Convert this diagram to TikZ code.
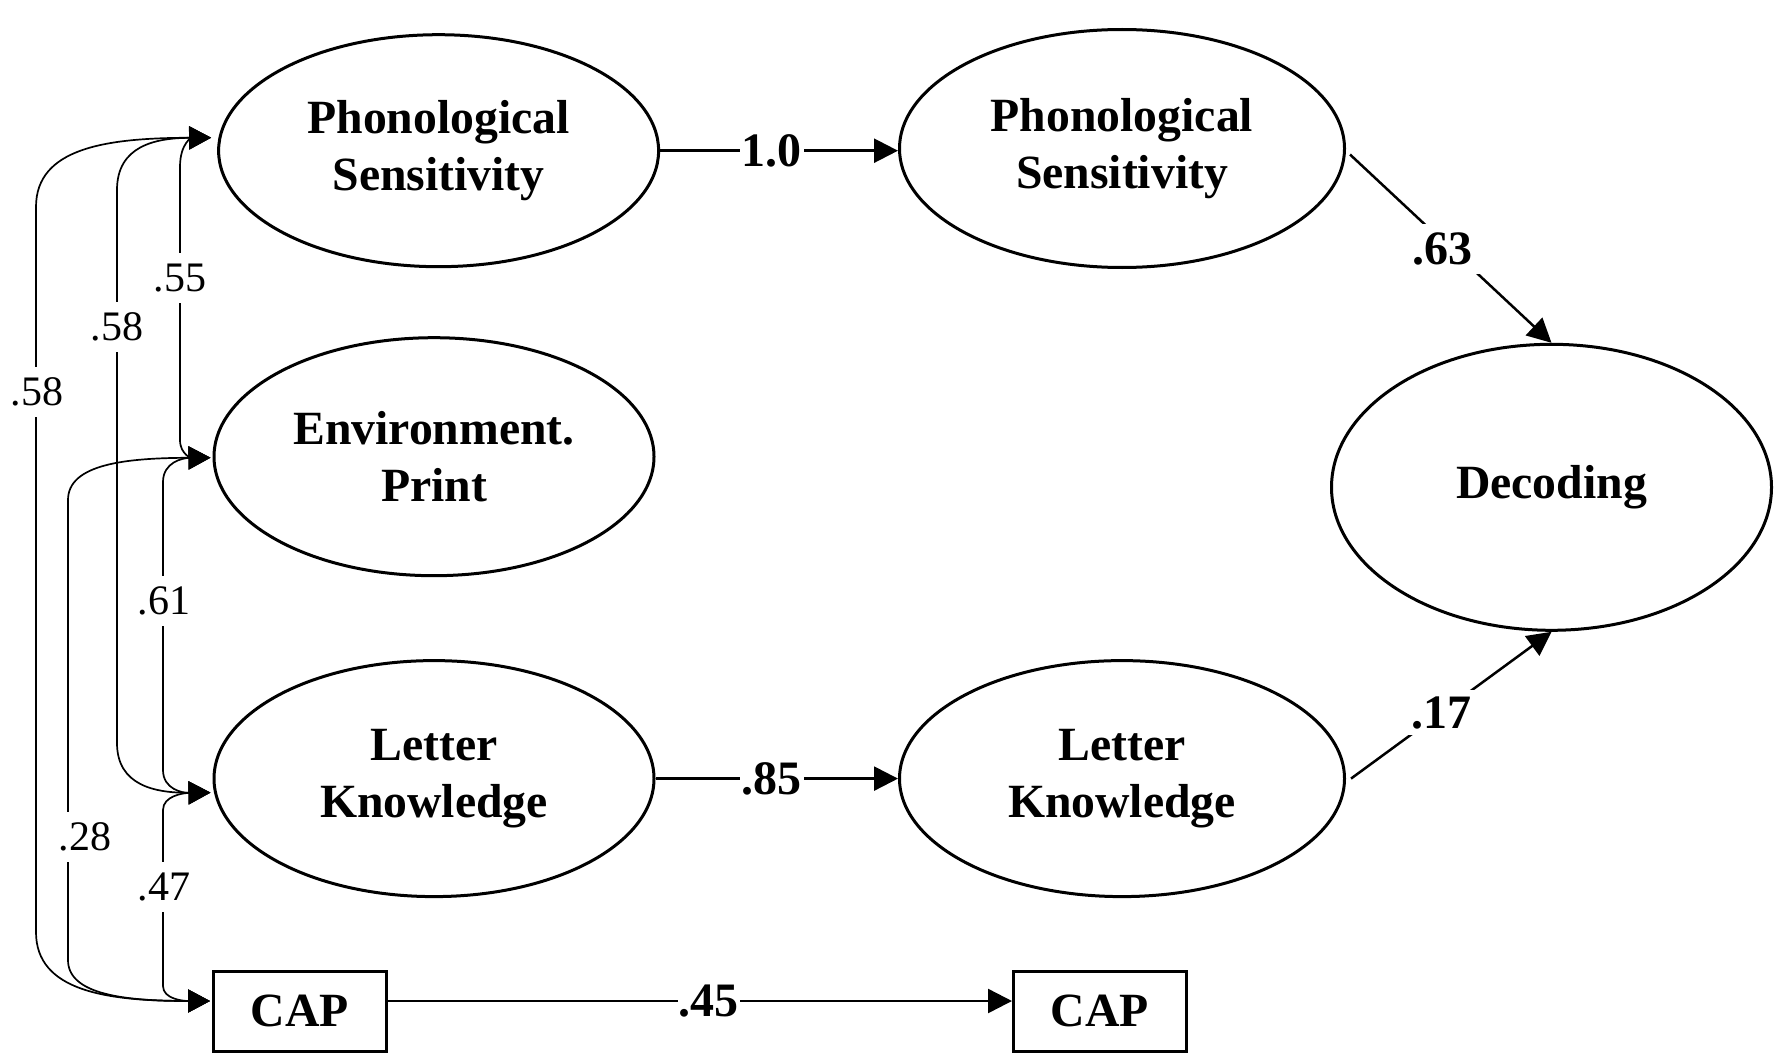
\documentclass[tikz,border=0pt]{standalone}
\usepackage{fontspec}
\setmainfont{Liberation Serif}
\usetikzlibrary{arrows.meta,calc,shapes.geometric}
\begin{document}
\begin{tikzpicture}[x=1pt,y=-1pt,
  latent/.style={ellipse, draw, line width=3pt, inner sep=0pt, align=center,
    font=\bfseries\fontsize{47.7}{57}\selectfont},
  obsbox/.style={rectangle, draw, line width=3pt, minimum width=173pt, minimum height=80pt,
    inner sep=0pt, font=\bfseries\fontsize{47.7}{57}\selectfont},
  tipA/.style={-{Triangle[length=24pt,width=24pt]}},
  path/.style={tipA, line width=2.5pt},
  cov/.style={{Triangle[length=22pt,width=23pt]}-{Triangle[length=22pt,width=23pt]}, line width=1.7pt},
  blbl/.style={fill=white, inner sep=2pt, font=\bfseries\fontsize{48}{56}\selectfont},
  lbl/.style={fill=white, inner xsep=4pt, inner ysep=11pt, font=\fontsize{42}{50}\selectfont}
]
\useasboundingbox (0,0) rectangle (1777,1054);

% nodes
\node[latent, minimum width=440pt, minimum height=232pt] (PS1) at (438.6,150.7) {Phonological\\Sensitivity};
\node[latent, minimum width=440pt, minimum height=238pt] (EP) at (434,456.7) {Environment.\\Print};
\node[latent, minimum width=440pt, minimum height=236pt] (LK1) at (434,778.6) {Letter\\Knowledge};
\node[latent, minimum width=445pt, minimum height=238pt] (PS2) at (1122,148.5) {Phonological\\Sensitivity};
\node[latent, minimum width=445pt, minimum height=236pt] (LK2) at (1122,778.6) {Letter\\Knowledge};
\node[latent, minimum width=440pt, minimum height=286pt] (Dec) at (1551.5,487.3) {Decoding};
\node[obsbox] (CAP1) at (300,1011) {CAP};
\node[obsbox] (CAP2) at (1100,1011) {CAP};

% arrival points on the left
\coordinate (PS1in) at ($(PS1.west)+(-6,-13)$);
\coordinate (EPin) at ($(EP.west)+(-2,1)$);
\coordinate (LK1in) at ($(LK1.west)+(-2,14)$);
\coordinate (CAP1in) at ($(CAP1.west)+(-2,-10)$);

% structural paths
\draw[path] (PS1.east) -- (PS1.east -| PS2.west) node[blbl, pos=0.47] {1.0};
\draw[path] (LK1.east) -- (LK2.west) node[blbl, pos=0.48] {.85};
\draw[path] ([yshift=10pt]CAP1.east) -- ([yshift=10pt]CAP2.west) node[blbl, pos=0.514, inner sep=1pt] {.45};
\draw[path] ($(PS2.east)+(4,6)$) -- (Dec.north) node[blbl, pos=0.46, yshift=-8pt, inner sep=9pt] {.63};
\draw[path] ($(LK2.east)+(5,0)$) -- (Dec.south) node[blbl, pos=0.45, inner sep=6.5pt] {.17};

% covariances
\draw[cov] (PS1in) .. controls (106,138) and (36,148) .. (36,207) -- (36,932)
  .. controls (36,991) and (106,1001) .. (CAP1in);
\draw[cov] (PS1in) .. controls (155,138) and (117,146) .. (117,190) -- (117,743)
  .. controls (117,785.5) and (155,793) .. (LK1in);
\draw[cov] (PS1in) .. controls (193,138) and (180,142) .. (180,167) -- (180,440)
  .. controls (180,455) and (193,458) .. (EPin);
\draw[cov] (EPin) .. controls (126,458) and (68,464) .. (68,500) -- (68,960)
  .. controls (68,995) and (126,1001) .. (CAP1in);
\draw[cov] (EPin) .. controls (183,458) and (163,462) .. (163,482) -- (163,770)
  .. controls (163,789.5) and (183,793) .. (LK1in);
\draw[cov] (LK1in) .. controls (183,793) and (163,796) .. (163,810) -- (163,986)
  .. controls (163,999) and (183,1001) .. (CAP1in);

% covariance labels
\node[lbl] (l1) at (37,392) {.58};
\node[lbl] (l2) at (117,327) {.58};
\node[lbl] (l3) at (180,278) {.55};
\node[lbl] (l4) at (85,837) {.28};
\node[lbl] (l5) at (164,601) {.61};
\node[lbl] (l6) at (164,887) {.47};
\end{tikzpicture}
\end{document}
